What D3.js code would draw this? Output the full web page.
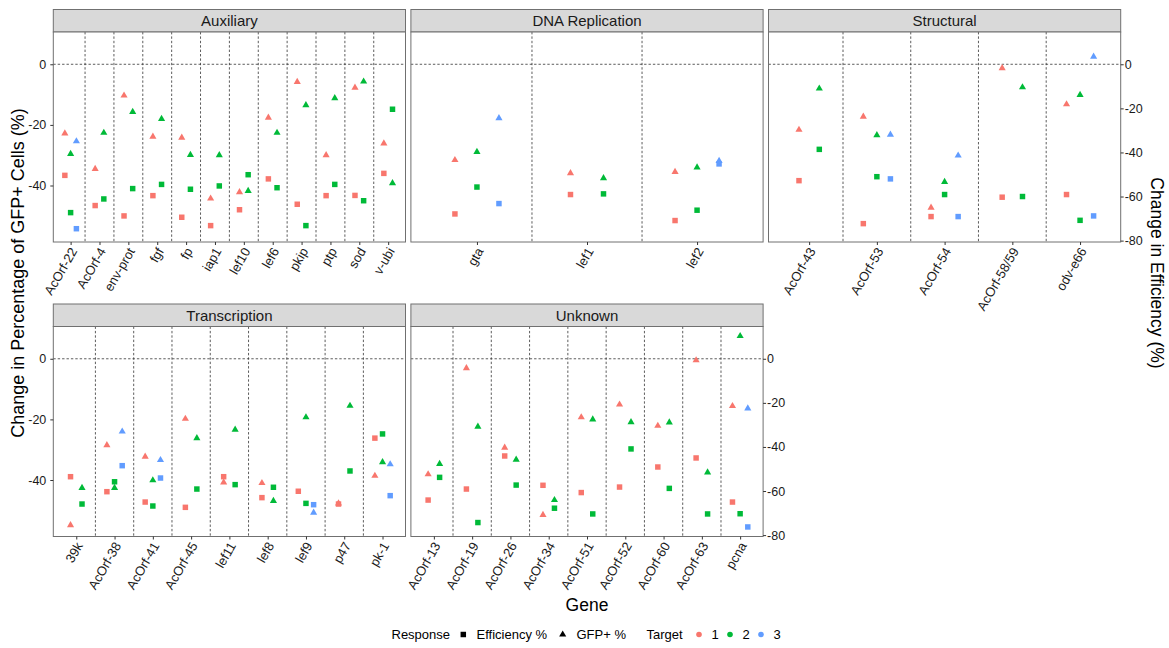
<!DOCTYPE html>
<html>
<head>
<meta charset="utf-8">
<script src="https://cdn.jsdelivr.net/npm/d3@7"></script>
<style>
  body { margin: 0; background: #ffffff; }
  svg text { font-family: "Liberation Sans", Arial, sans-serif; }
</style>
</head>
<body>
<svg id="chart" width="1169" height="648"></svg>
<script>
// ---------------- data ----------------
const facetNames = ["Auxiliary", "DNA Replication", "Structural", "Transcription", "Unknown"];

const genes = [
  "AcOrf-22", "AcOrf-4", "env-prot", "fgf", "fp", "iap1", "lef10", "lef6", "pkip", "ptp", "sod", "v-ubi",
  "gta", "lef1", "lef2",
  "AcOrf-43", "AcOrf-53", "AcOrf-54", "AcOrf-58/59", "odv-e66",
  "39k", "AcOrf-38", "AcOrf-41", "AcOrf-45", "lef11", "lef8", "lef9", "p47", "pk-1",
  "AcOrf-13", "AcOrf-19", "AcOrf-26", "AcOrf-34", "AcOrf-51", "AcOrf-52", "AcOrf-60", "AcOrf-63", "pcna"
];

const geneGroup = [
  ...Array(12).fill("Auxiliary"),
  ...Array(3).fill("DNA Replication"),
  ...Array(5).fill("Structural"),
  ...Array(9).fill("Transcription"),
  ...Array(9).fill("Unknown")
];

// Change in percentage of GFP+ cells (%), per target
const gfpTarget1 = [
  -22.8, -34.5, -10.3, -23.9, -24.2, -44.3, -42.2, -17.6, -5.8, -30.0, -7.7, -26.1,
  -31.6, -35.9, -35.5,
  -21.6, -17.3, -47.3, -1.3, -13.2,
  -54.9, -28.5, -32.3, -19.8, -40.8, -41.0, null, -47.7, -38.6,
  -38.1, -3.1, -29.3, -51.5, -19.3, -15.1, -22.1, -0.5, -15.6
];
const gfpTarget2 = [
  -29.6, -22.6, -15.7, -18.0, -29.9, -30.0, -41.8, -22.6, -13.5, -11.2, -5.7, -39.2,
  -28.9, -37.6, -34.0,
  -8.0, -23.4, -38.8, -7.6, -10.1,
  -42.6, -42.6, -40.1, -26.2, -23.4, -46.9, -19.3, -15.5, -34.1,
  -34.7, -22.4, -33.3, -46.6, -20.0, -20.9, -21.0, -37.5, 7.5
];
const gfpTarget3 = [
  -25.4, null, null, null, null, null, null, null, null, null, null, null,
  -17.8, null, -31.9,
  null, -23.2, -30.1, null, 2.5,
  null, -24.0, -33.4, null, null, null, -50.8, null, -34.8,
  null, null, null, null, null, null, null, null, -16.4
];

// Change in efficiency (%), per target
const effTarget1 = [
  -50.4, -64.1, -68.8, -59.6, -69.4, -73.2, -66.0, -52.0, -63.5, -59.6, -59.5, -49.5,
  -67.9, -59.1, -70.9,
  -52.8, -72.3, -69.1, -60.3, -59.1,
  -53.5, -60.3, -65.0, -67.4, -53.5, -63.0, -60.1, -65.9, -36.0,
  -64.1, -59.1, -44.1, -57.4, -60.7, -58.2, -49.1, -45.0, -65.0
];
const effTarget2 = [
  -67.3, -61.1, -56.4, -54.5, -56.7, -55.2, -50.1, -56.0, -73.2, -54.5, -61.9, -20.4,
  -55.7, -58.8, -66.2,
  -38.6, -51.0, -59.1, -60.0, -70.8,
  -65.9, -55.8, -66.8, -59.1, -57.1, -58.3, -65.6, -50.9, -34.1,
  -53.8, -74.3, -57.3, -67.8, -70.4, -40.9, -58.8, -70.4, -70.3
];
const effTarget3 = [
  -74.6, null, null, null, null, null, null, null, null, null, null, null,
  -63.2, null, -45.2,
  null, -52.0, -69.1, null, -68.8,
  null, -48.5, -54.1, null, null, null, -66.2, null, -62.1,
  null, null, null, null, null, null, null, null, -76.3
];

const targetLabels = ["1", "2", "3"];
const targetColors = ["#F8766D", "#00BA38", "#619CFF"];
const responseLabels = ["Efficiency %", "GFP+ %"];
const gfpTicks = [0, -20, -40];
const effTicks = [0, -20, -40, -60, -80];
// secondary axis: efficiency = primary value * effPerGfp
const effPerGfp = 1.375;

// ---------------- layout ----------------
const colX = [53.3, 410.9, 768.5];
const panelW = 352.2;
const stripTop = [9.5, 304];
const stripH = 22.5;
const panelH = 210;
const borderColor = "#707070";
const textColor = "#1a1a1a";
const fontFamily = "'Liberation Sans', Arial, sans-serif";

const svg = d3.select("#chart");

const gfpSeries = [gfpTarget1, gfpTarget2, gfpTarget3];
const effSeries = [effTarget1, effTarget2, effTarget3];

// shared y domain (primary units), expanded 5% each side
const plotted = [];
genes.forEach((g, i) => {
  for (let t = 0; t < 3; t++) {
    if (gfpSeries[t][i] != null) plotted.push(gfpSeries[t][i]);
    if (effSeries[t][i] != null) plotted.push(effSeries[t][i] / effPerGfp);
  }
});
const [lo, hi] = d3.extent(plotted);
const pad = (hi - lo) * 0.05;
const yDomain = [lo - pad, hi + pad];

const squareSym = d3.symbol().type(d3.symbolSquare).size(30);
const triangleSym = d3.symbol().type(d3.symbolTriangle).size(22);

facetNames.forEach((name, fi) => {
  const row = Math.floor(fi / 3), col = fi % 3;
  const x0 = colX[col];
  const sTop = stripTop[row];
  const pTop = sTop + stripH;
  const pBot = pTop + panelH;
  const idx = genes.map((g, i) => i).filter(i => geneGroup[i] === name);
  const facetGenes = idx.map(i => genes[i]);
  const isLastInRow = (fi === 2) || (fi === facetNames.length - 1);

  const x = d3.scalePoint().domain(facetGenes).range([x0, x0 + panelW]).padding(0.6);
  const y = d3.scaleLinear().domain(yDomain).range([pBot, pTop]);
  const yEff = d3.scaleLinear().domain(yDomain.map(v => v * effPerGfp)).range([pBot, pTop]);

  const g = svg.append("g");

  // strip
  g.append("rect")
    .attr("x", x0).attr("y", sTop).attr("width", panelW).attr("height", stripH)
    .attr("fill", "#d9d9d9").attr("stroke", borderColor).attr("stroke-width", 1);
  g.append("text")
    .attr("x", x0 + panelW / 2).attr("y", sTop + stripH / 2)
    .attr("dy", "0.36em").attr("text-anchor", "middle")
    .attr("font-size", 15).attr("fill", textColor).text(name);

  // panel background
  g.append("rect")
    .attr("x", x0).attr("y", pTop).attr("width", panelW).attr("height", panelH)
    .attr("fill", "#ffffff");

  // dashed separators between genes and zero line
  const seps = facetGenes.slice(1).map((gn, k) => (x(facetGenes[k]) + x(gn)) / 2);
  g.selectAll("line.sep").data(seps).join("line")
    .attr("x1", d => d).attr("x2", d => d).attr("y1", pTop).attr("y2", pBot)
    .attr("stroke", "#333").attr("stroke-width", 0.8).attr("stroke-dasharray", "2.4,2");
  g.append("line")
    .attr("x1", x0).attr("x2", x0 + panelW).attr("y1", y(0)).attr("y2", y(0))
    .attr("stroke", "#333").attr("stroke-width", 0.8).attr("stroke-dasharray", "2.4,2");

  // points, dodged by target within each gene
  const pts = [];
  idx.forEach(i => {
    const present = [0, 1, 2].filter(t => gfpSeries[t][i] != null || effSeries[t][i] != null);
    const n = present.length;
    present.forEach((t, k) => {
      const off = (-0.3 + (0.6 / n) * (k + 0.5)) * x.step();
      const cx = x(genes[i]) + off;
      if (gfpSeries[t][i] != null) pts.push({ shape: "tri", t, cx, cy: y(gfpSeries[t][i]) });
      if (effSeries[t][i] != null) pts.push({ shape: "sq", t, cx, cy: yEff(effSeries[t][i]) });
    });
  });
  const ordered = pts.filter(p => p.shape === "tri").concat(pts.filter(p => p.shape === "sq"));
  g.selectAll("path.pt").data(ordered).join("path")
    .attr("transform", d => `translate(${d.cx},${d.cy})`)
    .attr("d", d => d.shape === "sq" ? squareSym() : triangleSym())
    .attr("fill", d => targetColors[d.t]);

  // panel border
  g.append("rect")
    .attr("x", x0).attr("y", pTop).attr("width", panelW).attr("height", panelH)
    .attr("fill", "none").attr("stroke", borderColor).attr("stroke-width", 1);

  // x axis
  g.append("g")
    .attr("transform", `translate(0,${pBot})`)
    .call(d3.axisBottom(x).tickSize(3).tickPadding(0))
    .attr("font-family", fontFamily).attr("font-size", 13)
    .call(s => s.select(".domain").remove())
    .call(s => s.selectAll(".tick line").attr("stroke", "#333"))
    .call(s => s.selectAll(".tick text")
      .attr("fill", textColor)
      .attr("text-anchor", "end")
      .attr("x", 0).attr("y", 0).attr("dy", 0)
      .attr("transform", "translate(6.5,9) rotate(-60)"));

  // left axis
  if (col === 0) {
    g.append("g")
      .attr("transform", `translate(${x0},0)`)
      .call(d3.axisLeft(y).tickValues(gfpTicks).tickFormat(d => String(d)).tickSize(3).tickPadding(4))
      .attr("font-family", fontFamily).attr("font-size", 12.5)
      .call(s => s.select(".domain").remove())
      .call(s => s.selectAll(".tick line").attr("stroke", "#333"))
      .call(s => s.selectAll(".tick text").attr("fill", textColor));
  }
  // right (secondary) axis
  if (isLastInRow) {
    g.append("g")
      .attr("transform", `translate(${x0 + panelW},0)`)
      .call(d3.axisRight(yEff).tickValues(effTicks).tickFormat(d => String(d)).tickSize(3).tickPadding(1))
      .attr("font-family", fontFamily).attr("font-size", 12.5)
      .call(s => s.select(".domain").remove())
      .call(s => s.selectAll(".tick line").attr("stroke", "#333"))
      .call(s => s.selectAll(".tick text").attr("fill", textColor));
  }
});

// axis titles
const midY = (stripTop[0] + stripTop[1] + stripH + panelH) / 2;
svg.append("text")
  .attr("transform", `translate(24,${midY}) rotate(-90)`)
  .attr("text-anchor", "middle").attr("font-size", 18).attr("fill", "#000")
  .text("Change in Percentage of GFP+ Cells (%)");
svg.append("text")
  .attr("transform", `translate(1151,${midY}) rotate(90)`)
  .attr("text-anchor", "middle").attr("font-size", 17.5).attr("fill", "#000")
  .text("Change in Efficiency (%)");
svg.append("text")
  .attr("x", (colX[0] + colX[2] + panelW) / 2).attr("y", 611)
  .attr("text-anchor", "middle").attr("font-size", 17.5).attr("fill", "#000")
  .text("Gene");

// legend
const lg = svg.append("g").attr("font-size", 13).attr("fill", "#000");
const ly = 634.5;
lg.append("text").attr("x", 391.5).attr("y", ly).attr("dy", "0.36em").text("Response");
lg.append("path").attr("transform", `translate(463.3,${ly})`).attr("d", squareSym()).attr("fill", "#000");
lg.append("text").attr("x", 476.5).attr("y", ly).attr("dy", "0.36em").text(responseLabels[0]);
lg.append("path").attr("transform", `translate(562.7,${ly})`).attr("d", triangleSym()).attr("fill", "#000");
lg.append("text").attr("x", 576.5).attr("y", ly).attr("dy", "0.36em").text(responseLabels[1]);
lg.append("text").attr("x", 646.5).attr("y", ly).attr("dy", "0.36em").text("Target");
const dotX = [699, 730, 761];
targetLabels.forEach((lab, t) => {
  lg.append("circle").attr("cx", dotX[t]).attr("cy", ly).attr("r", 2.8).attr("fill", targetColors[t]);
  lg.append("text").attr("x", dotX[t] + 12.5).attr("y", ly).attr("dy", "0.36em").text(lab);
});
</script>
</body>
</html>
